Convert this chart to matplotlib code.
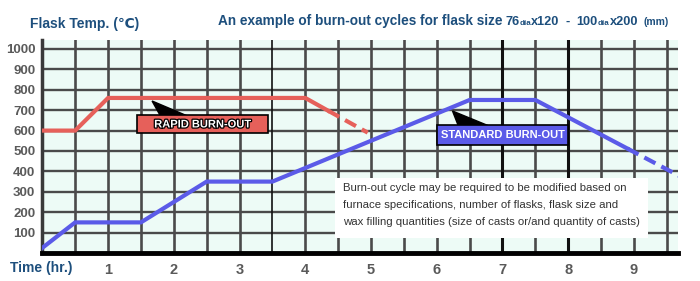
import matplotlib
matplotlib.use("Agg")
import matplotlib.pyplot as plt
import matplotlib.patheffects as pe
from matplotlib.patches import Rectangle, Polygon
from matplotlib import font_manager as fm
import numpy as np

# ---------------- data ----------------
red_x = [0, 0.5, 1.0, 4.0, 4.35]
red_y = [600, 600, 760, 760, 697]
red_dash_x = [4.35, 4.95]
red_dash_y = [697, 590]

blue_x = [0, 0.5, 1.5, 2.5, 3.5, 6.5, 7.5, 8.9]
blue_y = [25, 150, 150, 350, 350, 750, 750, 512]
blue_dash_x = [8.9, 9.7]
blue_dash_y = [512, 376]

y_ticks = [100, 200, 300, 400, 500, 600, 700, 800, 900, 1000]
x_ticks = [1, 2, 3, 4, 5, 6, 7, 8, 9]
note_lines = [
    "Burn-out cycle may be required to be modified based on",
    "furnace specifications, number of flasks, flask size and",
    "wax filling quantities (size of casts or/and quantity of casts)",
]

# ---------------- style ----------------
names = {f.name for f in fm.fontManager.ttflist}
narrow = "Liberation Sans Narrow" if "Liberation Sans Narrow" in names else "Liberation Sans"
plt.rcParams['font.family'] = ['Liberation Sans', 'DejaVu Sans']

TITLE_C = "#1d4f7d"
TICK_C = "#5a5a5a"
RED = "#e6605a"
BLUE = "#5b5be8"

fig = plt.figure(figsize=(7.0, 2.81), dpi=100)
ax = fig.add_axes([42.3 / 700, 1 - 253 / 281, (678 - 42.3) / 700, (253 - 40) / 281])
ax.set_xlim(0, 9.67)
ax.set_ylim(0, 1044)
ax.set_facecolor("#edfbf6")

# grid
for yv in np.arange(100, 1100, 100):
    ax.axhline(yv, color="#4a4a4a", lw=1.7, zorder=1)
for xv in np.arange(0.5, 9.6, 0.5):
    if xv in (7.0, 8.0):
        ax.axvline(xv, color="#111111", lw=2.2, zorder=1)
    elif xv == 3.5:
        ax.axvline(xv, color="#111111", lw=1.2, zorder=1)
    else:
        ax.axvline(xv, color="#4a4a4a", lw=1.9, zorder=1)

for s in ["top", "right"]:
    ax.spines[s].set_visible(False)
ax.spines["left"].set_color("#3a3a3a")
ax.spines["left"].set_linewidth(2.5)
ax.spines["bottom"].set_color("#000000")
ax.spines["bottom"].set_linewidth(3.5)

ax.set_yticks(y_ticks)
ax.set_yticklabels([str(v) for v in y_ticks])
ax.set_xticks(x_ticks)
ax.set_xticklabels([str(v) for v in x_ticks])
ax.tick_params(axis="both", length=0, colors=TICK_C, labelsize=9.5)
ax.tick_params(axis="y", pad=5)
ax.tick_params(axis="x", pad=7, labelsize=10.5)
for lab in ax.get_xticklabels() + ax.get_yticklabels():
    lab.set_fontweight("bold")

# note box
ax.add_patch(Rectangle((4.45, 73), 4.77, 294, facecolor="white", edgecolor="none", zorder=2))
for i, line in enumerate(note_lines):
    ax.text(4.58, 318 - i * 83, line, family=narrow, fontsize=8.2, color="#333333",
            va="center", ha="left", zorder=3)

# lines
ax.plot(red_x, red_y, color=RED, lw=3.0, solid_joinstyle="miter", zorder=4)
ax.plot(red_dash_x, red_dash_y, color=RED, lw=3.0, dashes=(3, 1.6), zorder=4)
ax.plot(blue_x, blue_y, color=BLUE, lw=3.0, solid_joinstyle="miter", zorder=4)
ax.plot(blue_dash_x, blue_dash_y, color=BLUE, lw=3.0, dashes=(3, 1.6), zorder=4)

# callouts
ax.add_patch(Polygon([(1.67, 745), (1.80, 670), (2.22, 670)], closed=True,
                     facecolor="black", edgecolor="black", lw=1, zorder=5))
ax.add_patch(Rectangle((1.44, 588), 2.0, 88, facecolor=RED, edgecolor="black", lw=1.2, zorder=6))
ax.text(2.44, 630, "RAPID BURN-OUT", family=narrow, fontsize=8.0, fontweight="bold",
        color="white", ha="center", va="center", zorder=7,
        path_effects=[pe.withStroke(linewidth=1.8, foreground="black")])

ax.add_patch(Polygon([(6.24, 696), (6.33, 622), (6.80, 622)], closed=True,
                     facecolor="black", edgecolor="black", lw=1, zorder=5))
ax.add_patch(Rectangle((6.01, 529), 1.99, 98, facecolor=BLUE, edgecolor="black", lw=1.2, zorder=6))
ax.text(7.0, 577, "STANDARD BURN-OUT", family=narrow, fontsize=8.0, fontweight="bold",
        color="white", ha="center", va="center", zorder=7)

# titles
fig.text(30 / 700, 1 - 24 / 281, "Flask Temp. (℃)", fontsize=10, fontweight="bold",
         color=TITLE_C, va="center", ha="left", family=['Liberation Sans', 'DejaVu Sans'])
fig.text(10 / 700, 1 - 268 / 281, "Time (hr.)", fontsize=10, fontweight="bold",
         color=TITLE_C, va="center", ha="left")

# main title composed of pieces (left edges in pixels)
pieces = [
    ("An example of burn-out cycles for flask size", 9.8, 218),
    ("76", 9.2, 506),
    ("dia", 5.8, 520),
    ("x120", 9.2, 531),
    ("-", 9.2, 565),
    ("100", 9.2, 576),
    ("dia", 5.8, 598),
    ("x200", 9.2, 610),
    ("(mm)", 7.5, 644),
]
base_y = 1 - 25 / 281
for txt, fs, xp in pieces:
    fig.text(xp / 700, base_y, txt, fontsize=fs, fontweight="bold", color=TITLE_C,
             va="baseline", ha="left")

fig.savefig("out.png", dpi=100)
